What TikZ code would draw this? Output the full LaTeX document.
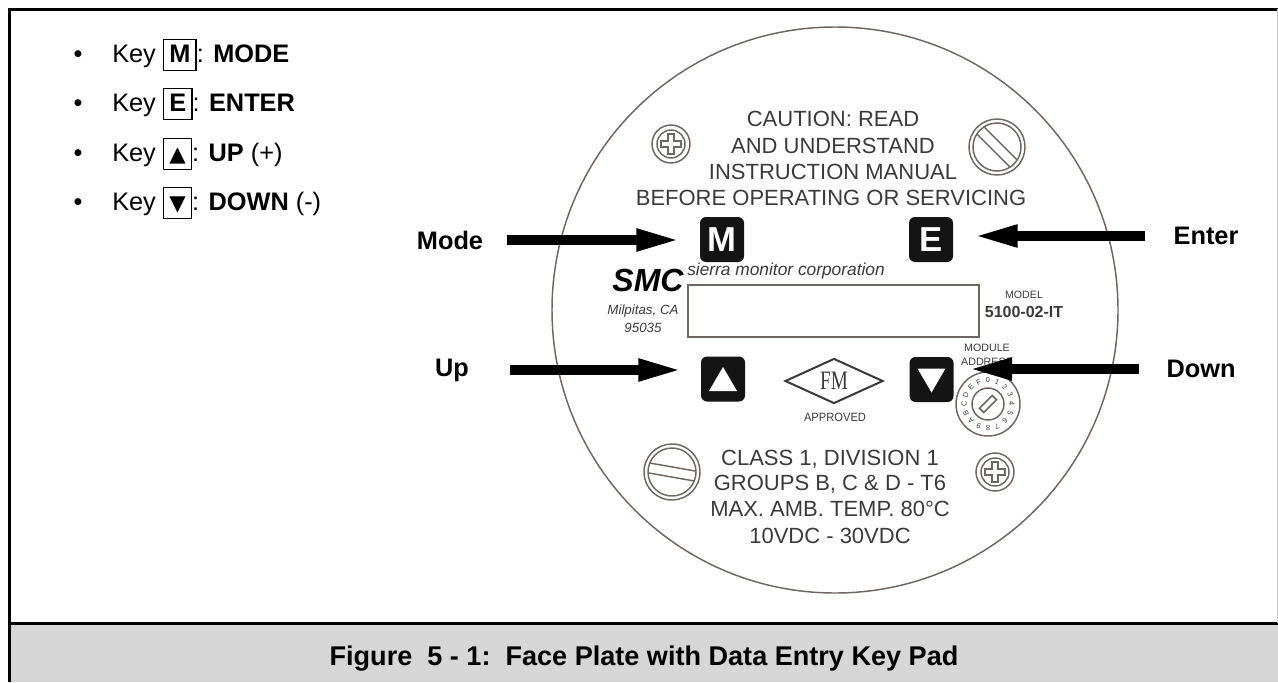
\documentclass[tikz,border=0pt]{standalone}
\usepackage{fontspec}
\setmainfont{Liberation Sans}
\newfontfamily\serifft{Liberation Serif}
\newfontfamily\symft{DejaVu Sans}
\usetikzlibrary{arrows.meta,shapes.geometric,calc}
\definecolor{plate}{HTML}{3A3A3A}
\definecolor{rim}{HTML}{6E6660}
\definecolor{capgray}{HTML}{D6D6D6}
\newcommand{\keybox}[1]{{\setlength{\fboxsep}{2.2pt}\setlength{\fboxrule}{1.1pt}\fbox{\rule[-3.5pt]{0pt}{17.5pt}\hspace{1.5pt}#1\hspace{1.5pt}}}}
\begin{document}
\begin{tikzpicture}[x=0.75pt,y=-0.75pt,
  listtxt/.style={anchor=base west,font=\fontsize{19}{22}\selectfont,inner sep=0},
  bul/.style={anchor=base,font=\fontsize{19}{22}\selectfont,inner sep=0},
  platetxt/.style={anchor=base,text=plate,font=\fontsize{16.5}{19}\selectfont,inner sep=0},
  keyst/.style={fill=black!92,rounded corners=4.5pt,minimum width=33pt,minimum height=33.75pt,inner sep=0,text=white,font=\bfseries\fontsize{26}{26}\selectfont},
  lbl/.style={font=\bfseries\fontsize{19}{22}\selectfont,inner sep=0},
  bigarrow/.style={line width=7.5pt,-{Triangle[length=34pt,width=15pt]}},
  rimline/.style={draw=rim,line width=1.1pt},
  tiny/.style={text=plate,inner sep=0,anchor=base,font=\fontsize{8}{8}\selectfont},
]
\useasboundingbox (0,0) rectangle (1278,682);
% frame and caption band
\fill[capgray] (9,623) rectangle (1278,682);
\draw[line width=2.25pt] (1278,9) -- (9,9) -- (9,682);
\draw[line width=2.25pt] (9,623) -- (1278,623);
\draw[gray!40,line width=0.75pt] (1277,9) -- (1277,623);
\node[font=\bfseries\fontsize{20.3}{23}\selectfont,anchor=base,inner sep=0] (cap) at (644,665) {Figure\ \ 5 - 1:\ \ Face Plate with Data Entry Key Pad};

% key list
\node[bul] (b1) at (78,62) {\textbullet};
\node[bul] (b2) at (78,111) {\textbullet};
\node[bul] (b3) at (78,161) {\textbullet};
\node[bul] (b4) at (78,210) {\textbullet};
\node[listtxt] (t1) at (112,62) {Key \keybox{\textbf{M}}: \textbf{MODE}};
\node[listtxt] (t2) at (112,111) {Key \keybox{\textbf{E}}: \textbf{ENTER}};
\node[listtxt] (t3) at (112,161) {Key \keybox{{\symft\fontsize{16}{16}\selectfont ▲}}: \textbf{UP} (+)};
\node[listtxt] (t4) at (112,210) {Key \keybox{{\symft\fontsize{16}{16}\selectfont ▼}}: \textbf{DOWN} (-)};

% face plate
\draw[rimline] (835,310) circle[radius=283];
\node[platetxt] (c1) at (833,126) {CAUTION: READ};
\node[platetxt] (c2) at (833,153) {AND UNDERSTAND};
\node[platetxt] (c3) at (833,179) {INSTRUCTION MANUAL};
\node[platetxt] (c4) at (831,205) {BEFORE OPERATING OR SERVICING};
\node[platetxt] (d1) at (830,465) {CLASS 1, DIVISION 1};
\node[platetxt] (d2) at (830,490) {GROUPS B, C \& D - T6};
\node[platetxt] (d3) at (830,516) {MAX. AMB. TEMP. 80°C};
\node[platetxt] (d4) at (830,543) {10VDC - 30VDC};

% screws
\begin{scope}[shift={(671,144)},rimline]
  \draw (0,0) circle[radius=19]; \draw (0,0) circle[radius=14];
  \draw (-3,-10) -- (3,-10) -- (3,-3) -- (10,-3) -- (10,3) -- (3,3) -- (3,10) -- (-3,10) -- (-3,3) -- (-10,3) -- (-10,-3) -- (-3,-3) -- cycle;
\end{scope}
\begin{scope}[shift={(995,472)},rimline]
  \draw (0,0) circle[radius=19]; \draw (0,0) circle[radius=14];
  \draw (-3,-10) -- (3,-10) -- (3,-3) -- (10,-3) -- (10,3) -- (3,3) -- (3,10) -- (-3,10) -- (-3,3) -- (-10,3) -- (-10,-3) -- (-3,-3) -- cycle;
\end{scope}
\begin{scope}[shift={(997,147)},rotate=-45,rimline]
  \draw (0,0) circle[radius=28]; \draw (0,0) circle[radius=24];
  \draw (-23.5,-5) -- (23.5,-5); \draw (-23.5,5) -- (23.5,5);
\end{scope}
\begin{scope}[shift={(672,472)},rotate=-10,rimline]
  \draw (0,0) circle[radius=28]; \draw (0,0) circle[radius=24];
  \draw (-23.5,-5) -- (23.5,-5); \draw (-23.5,5) -- (23.5,5);
\end{scope}

% logo, display, model
\node[font=\bfseries\itshape\fontsize{24}{24}\selectfont,inner sep=0] (smc) at (648,280) {SMC};
\node[anchor=base west,font=\itshape\fontsize{13}{13}\selectfont,text=plate,inner sep=0] (smcname) at (687,275) {sierra monitor corporation};
\node[anchor=base,font=\itshape\fontsize{10}{10}\selectfont,text=plate,inner sep=0] (city) at (643,314) {Milpitas, CA};
\node[anchor=base,font=\itshape\fontsize{10}{10}\selectfont,text=plate,inner sep=0] (zip) at (643,332) {95035};
\draw[rimline] (688,285) rectangle (979,337);
\node[tiny] (mdl) at (1024,298) {MODEL};
\node[tiny,font=\bfseries\fontsize{12}{12}\selectfont] (mdlno) at (1024,317) {5100-02-IT};
\node[tiny] (modu) at (987,351) {MODULE};
\node[tiny] (addr) at (987,365) {ADDRESS};

% rotary switch
\draw[rimline] (988,404) circle[radius=32];
\draw[rimline] (988,404) circle[radius=16];
\draw[rimline,rotate around={45:(988,404)}] (979,401) rectangle (997,407);
\foreach \c [count=\k from 0] in {0,1,2,3,4,5,6,7,8,9,A,B,C,D,E,F}
  \node[text=plate,inner sep=0,font=\fontsize{5.5}{5.5}\selectfont,rotate=-22.5*\k] (dig\k) at ($(988,404)+({24*sin(22.5*\k)},{-24*cos(22.5*\k)})$) {\c};

% FM approval
\node[diamond,draw=plate,line width=1.5pt,aspect=2.18,minimum width=73.5pt,minimum height=33.75pt,inner sep=0,text=plate,font=\serifft\fontsize{20}{20}\selectfont] (fm) at (834,381) {\scalebox{0.72}[1]{FM}};
\node[text=plate,inner sep=0,font=\fontsize{9}{9}\selectfont] (appr) at (835,417) {\scalebox{0.93}[1]{APPROVED}};

% keys
\node[keyst] (kM) at (722,239.5) {M};
\node[keyst] (kE) at (931,239.5) {E};
\node[keyst] (kU) at (723,379) {};
\node[keyst] (kD) at (931.5,379.5) {};
\fill[white] ($(kU.center)+(0,-12)$) -- ($(kU.center)+(14,12)$) -- ($(kU.center)+(-14,12)$) -- cycle;
\fill[white] ($(kD.center)+(-14,-11)$) -- ($(kD.center)+(14,-11)$) -- ($(kD.center)+(0,13)$) -- cycle;

% labels and arrows
\node[lbl] (lM) at (450,240) {Mode};
\node[lbl] (lU) at (452,370) {Up};
\node[lbl] (lE) at (1206,236) {Enter};
\node[lbl] (lD) at (1201,369) {Down};
\draw[bigarrow,shorten <=18pt,shorten >=13.5pt] (lM.east) -- (lM.east -| kM.west);
\draw[bigarrow,shorten <=30.75pt,shorten >=12.75pt] (lU.east) -- (lU.east -| kU.west);
\draw[bigarrow,shorten <=21pt,shorten >=14.25pt] (lE.west) -- (lE.west -| kE.east);
\draw[bigarrow,shorten <=20.6pt,shorten >=9.75pt] (lD.west) -- (lD.west -| kD.east);
\end{tikzpicture}
\end{document}
